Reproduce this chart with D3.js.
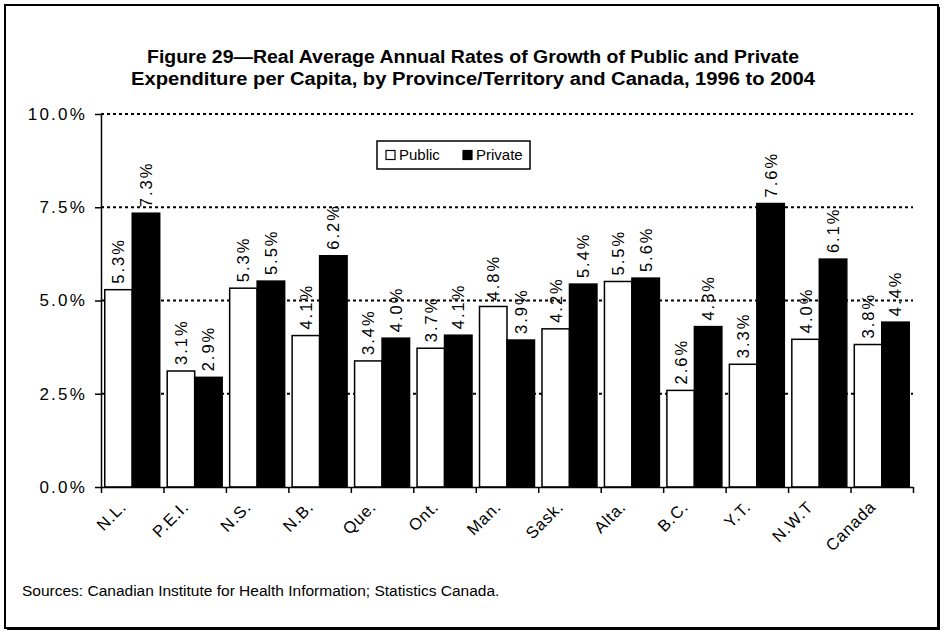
<!DOCTYPE html>
<html><head><meta charset="utf-8">
<script src="https://cdn.jsdelivr.net/npm/d3@7"></script>
<style>
body{margin:0;background:#fff}
svg{display:block}
text{font-family:"Liberation Sans", Arial, Helvetica, sans-serif; fill:#000}
</style>
</head><body>
<svg id="c" width="945" height="634"></svg>
<script>
const categories = ["N.L.","P.E.I.","N.S.","N.B.","Que.","Ont.","Man.","Sask.","Alta.","B.C.","Y.T.","N.W.T","Canada"];
const seriesNames = ["Public","Private"];
const publicValues  = [5.29,3.11,5.33,4.06,3.38,3.72,4.84,4.24,5.51,2.59,3.29,3.96,3.82];
const privateValues = [7.34,2.94,5.52,6.20,3.99,4.07,3.94,5.44,5.60,4.30,7.60,6.11,4.42];
const yTicks = [0,2.5,5,7.5,10];
const titleLines = ["Figure 29\u2014Real Average Annual Rates of Growth of Public and Private",
                    "Expenditure per Capita, by Province/Territory and Canada, 1996 to 2004"];
const sourceNote = "Sources: Canadian Institute for Health Information; Statistics Canada.";

const svg = d3.select("#c");
const fmt = v => d3.format(".1f")(v) + "%";

// frame
svg.append("rect").attr("x",7).attr("y",7).attr("width",933).attr("height",623).attr("fill","#000");
svg.append("rect").attr("x",5).attr("y",5).attr("width",933).attr("height",623)
  .attr("fill","#fff").attr("stroke","#000").attr("stroke-width",2);

// title
const titleWidths = [652, 684];
svg.append("g").selectAll("text").data(titleLines).join("text")
  .attr("x",473).attr("y",(d,i)=>63+i*22).attr("text-anchor","middle")
  .attr("font-weight","bold").attr("font-size",18)
  .attr("textLength",(d,i)=>titleWidths[i]).attr("lengthAdjust","spacingAndGlyphs")
  .text(d=>d);

const y = d3.scaleLinear().domain([0,10]).range([487,114]);
const x0 = d3.scaleBand().domain(categories).range([101,913]).paddingInner(0.12).paddingOuter(0.06);
const x1 = d3.scaleBand().domain(seriesNames).range([0,x0.bandwidth()]);
const xb = d3.scaleLinear().domain([0,categories.length]).range([101,913]);

// gridlines
svg.append("g").selectAll("line").data(yTicks.filter(t=>t>0)).join("line")
  .attr("x1",101).attr("x2",913).attr("y1",d=>y(d)).attr("y2",d=>y(d))
  .attr("stroke","#000").attr("stroke-width",2).attr("stroke-dasharray","3,3");

// bars
const rows = categories.map((c,i)=>({c, vals:[{s:"Public",v:publicValues[i]},{s:"Private",v:privateValues[i]}]}));
const grp = svg.append("g").selectAll("g").data(rows).join("g")
  .attr("transform",d=>`translate(${x0(d.c)},0)`);
grp.selectAll("rect").data(d=>d.vals).join("rect")
  .attr("x",d=>x1(d.s)).attr("width",x1.bandwidth())
  .attr("y",d=>y(d.v)).attr("height",d=>y(0)-y(d.v))
  .attr("fill",d=>d.s==="Public"?"#fff":"#000")
  .attr("stroke","#000").attr("stroke-width",1.5);

// data labels
grp.selectAll("text").data(d=>d.vals).join("text")
  .attr("transform",d=>`translate(${x1(d.s)+x1.bandwidth()/2},${y(d.v)-6}) rotate(-90)`)
  .attr("dy","0.36em").attr("font-size",16.5).attr("letter-spacing","2px")
  .text(d=>fmt(d.v));

// y axis
const ya = svg.append("g").attr("transform","translate(101,0)")
  .call(d3.axisLeft(y).tickValues(yTicks).tickSize(6).tickSizeOuter(0).tickPadding(8).tickFormat(fmt));
ya.select(".domain").attr("stroke-width",1.5);
ya.selectAll(".tick line").attr("stroke-width",1.5);
ya.selectAll(".tick text").attr("font-size",17).attr("letter-spacing","2.2px")
  .attr("font-family",'"Liberation Sans", Arial, sans-serif').attr("fill","#000");

// x axis
const xa = svg.append("g").attr("transform","translate(0,487)")
  .call(d3.axisBottom(xb).tickValues(d3.range(categories.length+1)).tickSize(6).tickSizeOuter(0).tickFormat(""));
xa.select(".domain").attr("stroke-width",1.5);
xa.selectAll(".tick line").attr("stroke-width",1.5);

// category labels
svg.append("g").selectAll("text").data(categories).join("text")
  .attr("transform",d=>`translate(${x0(d)+x0.bandwidth()/2-5},${508}) rotate(-45)`)
  .attr("text-anchor","end").attr("font-size",16.5).attr("letter-spacing","0.8px")
  .text(d=>d);

// legend
const lg = svg.append("g").attr("transform","translate(377,141)");
lg.append("rect").attr("width",153).attr("height",28).attr("fill","#fff").attr("stroke","#000").attr("stroke-width",1.5);
const li = lg.selectAll("g").data(seriesNames).join("g")
  .attr("transform",(d,i)=>`translate(${9+i*77},14)`);
li.append("rect").attr("x",0).attr("y",-4.5).attr("width",9).attr("height",9)
  .attr("fill",d=>d==="Public"?"#fff":"#000").attr("stroke","#000").attr("stroke-width",1.2);
li.append("text").attr("x",13).attr("dy","0.35em").attr("font-size",15).text(d=>d);

// source
svg.append("text").attr("x",22).attr("y",596).attr("font-size",15.5).text(sourceNote);
</script>
</body></html>
